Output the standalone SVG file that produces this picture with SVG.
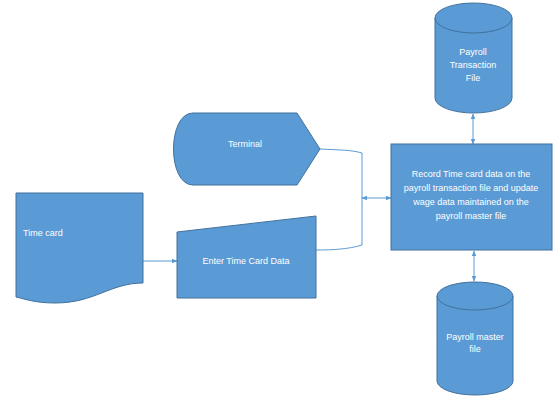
<svg xmlns="http://www.w3.org/2000/svg" width="560" height="412" viewBox="0 0 560 412">
<style>
.shape{fill:#5B9BD5;stroke:#41719C;stroke-width:1}
.edge{fill:none;stroke:#5B9BD5;stroke-width:1}
.lbl{font-family:"Liberation Sans",Arial,sans-serif;font-size:9px;fill:#ffffff}
.c{text-anchor:middle}
</style>
<defs>
<marker id="ah" viewBox="0 0 10 10" refX="9" refY="5" markerWidth="6" markerHeight="6" orient="auto-start-reverse">
<path d="M0,1 L10,5 L0,9 z" fill="#5B9BD5"/>
</marker>
</defs>
<rect width="560" height="412" fill="#ffffff"/>
<g id="connectors">
<path class="edge" d="M320,149 C340,150 352,150 362,153 L362,245 C352,248 340,250 316,250"/>
<line class="edge" x1="362" y1="198" x2="391" y2="198" marker-start="url(#ah)" marker-end="url(#ah)"/>
<line class="edge" x1="473" y1="114" x2="473" y2="144" marker-start="url(#ah)" marker-end="url(#ah)"/>
<line class="edge" x1="474" y1="251" x2="474" y2="281" marker-start="url(#ah)" marker-end="url(#ah)"/>
<line class="edge" x1="143" y1="261" x2="177" y2="261" marker-end="url(#ah)"/>
</g>
<g id="payroll-transaction-file">
<path class="shape" d="M435,18 A38.5,15 0 0 1 512,18 L512,98 A38.5,15 0 0 1 435,98 Z"/>
<path class="shape" d="M435,18 A38.5,15 0 0 0 512,18" fill="none"/>
<text class="lbl c" x="473" y="55">Payroll</text>
<text class="lbl c" x="473" y="68">Transaction</text>
<text class="lbl c" x="473" y="81">File</text>
</g>
<g id="record-process">
<rect class="shape" x="391" y="144" width="161" height="106"/>
<text class="lbl c" x="471" y="177">Record Time card data on the</text>
<text class="lbl c" x="471" y="191">payroll transaction file and update</text>
<text class="lbl c" x="471" y="205">wage data maintained on the</text>
<text class="lbl c" x="471" y="219">payroll master file</text>
</g>
<g id="payroll-master-file">
<path class="shape" d="M437,296 A38,14 0 0 1 513,296 L513,381 A38,14 0 0 1 437,381 Z"/>
<path class="shape" d="M437,296 A38,14 0 0 0 513,296" fill="none"/>
<text class="lbl c" x="475" y="340">Payroll master</text>
<text class="lbl c" x="475" y="352">file</text>
</g>
<g id="terminal">
<path class="shape" d="M193,113 L297,113 L320,149 L297,185 L193,185 C167,185 167,113 193,113 Z"/>
<text class="lbl c" x="245" y="147">Terminal</text>
</g>
<g id="enter-time-card-data">
<path class="shape" d="M177,232 L316,216 L316,298 L177,298 Z"/>
<text class="lbl c" x="246" y="264">Enter Time Card Data</text>
</g>
<g id="time-card">
<path class="shape" d="M16,193 L143,193 L143,283 C110,283 95,303 55,303 C35,303 25,299 16,297 Z"/>
<text class="lbl" x="23" y="236">Time card</text>
</g>
</svg>
